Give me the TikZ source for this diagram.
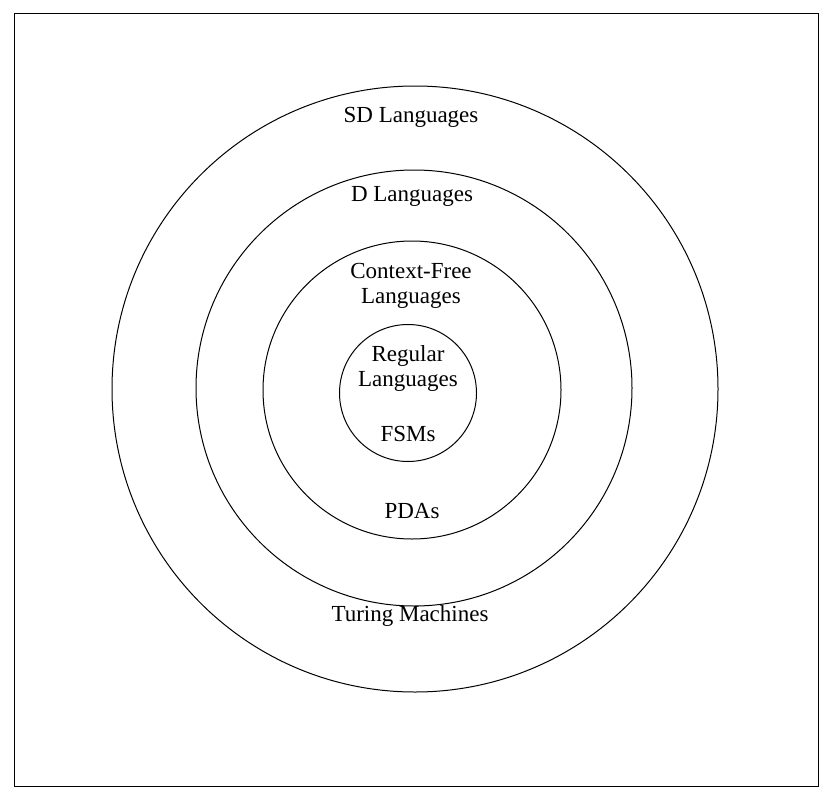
\documentclass[tikz,border=0pt]{standalone}
\usepackage{fontspec}
\setmainfont{Liberation Serif}
\begin{document}
\begin{tikzpicture}[x=1pt,y=-1pt,
  ring/.style={draw,circle,line width=1pt,inner sep=0pt},
  lbl/.style={font=\fontsize{23}{25}\selectfont,align=center,inner sep=0pt}]
\useasboundingbox (0,0) rectangle (832,800);
\node[draw,line width=1pt,minimum width=804pt,minimum height=772pt,inner sep=0pt] (frame) at (416,400) {};
\node[ring,minimum size=606pt] (sd) at (415,389) {};
\node[ring,minimum size=436pt] (d) at (414,388) {};
\node[ring,minimum size=298pt] (cf) at (412,390) {};
\node[ring,minimum size=137pt] (reg) at (408,393) {};
\node[lbl] (tsd) at (411,117) {SD Languages};
\node[lbl] (td) at (412,196) {D Languages};
\node[lbl] (tcf) at (411,286) {Context-Free\\Languages};
\node[lbl] (treg) at (408,368) {Regular\\Languages};
\node[lbl] (tfsm) at (408,434) {FSMs};
\node[lbl] (tpda) at (412,511) {PDAs};
\node[lbl] (ttm) at (410,616) {Turing Machines};
\end{tikzpicture}
\end{document}
